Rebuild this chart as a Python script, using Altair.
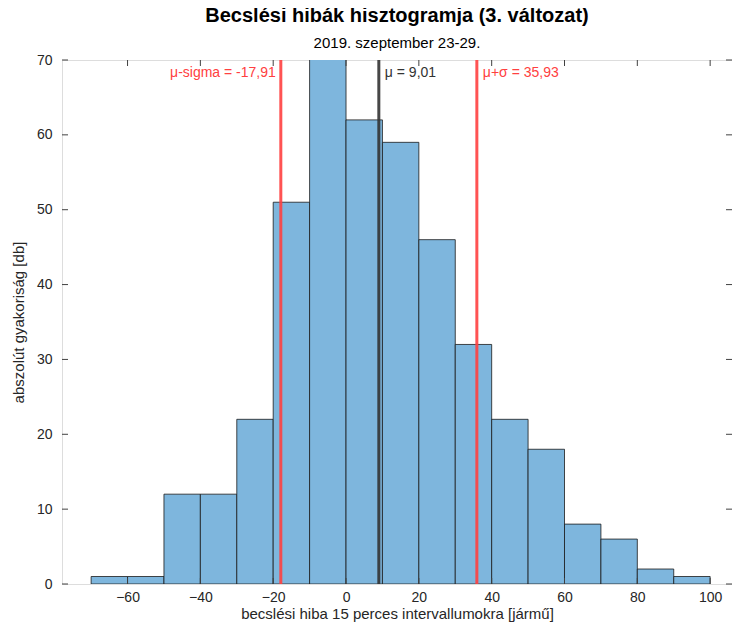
import altair as alt
import pandas as pd

bin_start = [-70, -60, -50, -40, -30, -20, -10, 0, 10, 20, 30, 40, 50, 60, 70, 80, 90]
counts = [1, 1, 12, 12, 22, 51, 72, 62, 59, 46, 32, 22, 18, 8, 6, 2, 1]
bin_width = 10

line_x = [-17.91, 9.01, 35.93]
line_color = ["#FF4040", "#333333", "#FF4040"]
ann_labels = ["μ-sigma = -17,91", "μ = 9,01", "μ+σ = 35,93"]
ann_align = ["right", "left", "left"]

x_ticks = [-60, -40, -20, 0, 20, 40, 60, 80, 100]
y_ticks = [0, 10, 20, 30, 40, 50, 60, 70]

X_DOMAIN = [-78, 106]
Y_DOMAIN = [0, 70]
W, H = 670, 524
FONT = "Liberation Sans"
TXT = "#262626"

hist = pd.DataFrame({"start": bin_start, "count": counts})
hist["end"] = hist["start"] + bin_width
lines = pd.DataFrame({"x": line_x, "color": line_color, "label": ann_labels, "align": ann_align})
xt = pd.DataFrame({"v": x_ticks})
yt = pd.DataFrame({"v": y_ticks})

xs = alt.Scale(domain=X_DOMAIN, nice=False, zero=False)
ys = alt.Scale(domain=Y_DOMAIN, nice=False)

bars = alt.Chart(hist).mark_rect(
    color="#7EB6DD", stroke="#1a1a1a", strokeWidth=0.8, clip=True
).encode(
    x=alt.X("start:Q", scale=xs, axis=alt.Axis(
        values=x_ticks, title="becslési hiba 15 perces intervallumokra [jármű]",
        ticks=False, domain=False, grid=False, labelFont=FONT, labelFontSize=14,
        labelColor=TXT, titleFont=FONT, titleFontSize=15, titleColor=TXT,
        titleFontWeight="normal", labelPadding=6, titlePadding=2)),
    x2="end:Q",
    y=alt.Y("count:Q", scale=ys, axis=alt.Axis(
        values=y_ticks, title="abszolút gyakoriság [db]", ticks=False, domain=False,
        grid=False, labelFont=FONT, labelFontSize=14, labelColor=TXT,
        titleFont=FONT, titleFontSize=15, titleColor=TXT, titleFontWeight="normal",
        labelPadding=10, titlePadding=10)),
    y2=alt.datum(0),
)

vlines = alt.Chart(lines).mark_rule(strokeWidth=3, opacity=0.9).encode(
    x=alt.X("x:Q", scale=xs),
    y=alt.value(0), y2=alt.value(H),
    color=alt.Color("color:N", scale=None),
)

ann_right = alt.Chart(lines[lines["align"] == "right"]).mark_text(
    align="right", baseline="middle", dx=-5, font=FONT, fontSize=14
).encode(
    x=alt.X("x:Q", scale=xs), y=alt.value(13),
    text="label:N", color=alt.Color("color:N", scale=None),
)
ann_left = alt.Chart(lines[lines["align"] == "left"]).mark_text(
    align="left", baseline="middle", dx=6, font=FONT, fontSize=14
).encode(
    x=alt.X("x:Q", scale=xs), y=alt.value(13),
    text="label:N", color=alt.Color("color:N", scale=None),
)

tick_color = "#404040"
xt_bottom = alt.Chart(xt).mark_rule(color=tick_color, strokeWidth=1).encode(
    x=alt.X("v:Q", scale=xs), y=alt.value(H), y2=alt.value(H - 6))
xt_top = alt.Chart(xt).mark_rule(color=tick_color, strokeWidth=1).encode(
    x=alt.X("v:Q", scale=xs), y=alt.value(0), y2=alt.value(6))
yt_left = alt.Chart(yt).mark_rule(color=tick_color, strokeWidth=1).encode(
    y=alt.Y("v:Q", scale=ys), x=alt.value(0), x2=alt.value(6))
yt_right = alt.Chart(yt).mark_rule(color=tick_color, strokeWidth=1).encode(
    y=alt.Y("v:Q", scale=ys), x=alt.value(W), x2=alt.value(W - 6))

chart = alt.layer(
    bars, vlines, ann_right, ann_left, xt_bottom, xt_top, yt_left, yt_right
).properties(
    width=W, height=H,
    autosize=alt.AutoSizeParams(type="none"),
    padding={"left": 54, "top": 52, "right": 0, "bottom": 38},
    title=alt.TitleParams(
        text="Becslési hibák hisztogramja (3. változat)",
        subtitle="2019. szeptember 23-29.",
        font=FONT, fontSize=20, fontWeight="bold", color="#000000",
        subtitleFont=FONT, subtitleFontSize=15, subtitleColor="#000000",
        anchor="middle", offset=2, subtitlePadding=10,
    ),
).configure_view(
    stroke="#8a8a8a", strokeWidth=1
).configure(
    background="white"
)

chart.save("out.html", embed_options={"renderer": "svg", "actions": False})
